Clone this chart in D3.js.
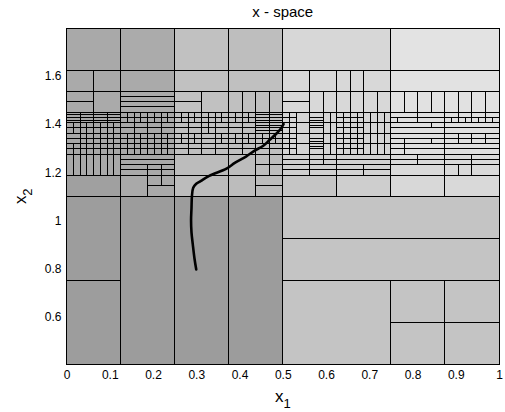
<!DOCTYPE html>
<html>
<head>
<meta charset="utf-8">
<title>x - space</title>
<script src="https://cdn.jsdelivr.net/npm/d3@7"></script>
<style>
    body { margin: 0; background: #fff; }
    text { font-family: "Liberation Sans", Arial, sans-serif; fill: #000; }
</style>
</head>
<body>
<svg id="chart" width="505" height="412"></svg>
<script>
// mesh is stored in grid units: x in 1/64 of [0,1], y in steps of 0.7/64 counted from 1.1
const gridN = 64, gridY0 = 1.1, gridStep = 0.7 / 64;

const xTicks = [0, 0.1, 0.2, 0.3, 0.4, 0.5, 0.6, 0.7, 0.8, 0.9, 1];
const yTicks = [0.6, 0.8, 1, 1.2, 1.4, 1.6];

// blocks: [x0, x1, y0, y1, grey, vertical splits, horizontal splits]
const lowerBlocks = [
    [0, 8, -32, 0, '#9d9d9d'],
    [0, 8, -64, -32, '#9d9d9d'],
    [8, 16, -64, 0, '#9c9c9c'],
    [16, 24, -64, 0, '#9c9c9c'],
    [24, 32, -64, 0, '#9c9c9c'],
    [32, 64, -32, 0, '#c4c4c4', [], [-16]],
    [32, 48, -64, -32, '#c4c4c4'],
    [48, 64, -64, -32, '#c4c4c4', [56], [-48]]
];

const upperBlocks = [
    // top row
    [0, 8, 48, 64, '#a9a9a9'],
    [8, 16, 48, 64, '#ababab'],
    [16, 24, 48, 64, '#c1c1c1'],
    [24, 32, 48, 64, '#bebebe'],
    [32, 48, 48, 64, '#d7d7d7'],
    [48, 64, 48, 64, '#e3e3e3'],
    // second row
    [0, 8, 40, 48, '#aaaaaa', [4]],
    [8, 16, 40, 48, '#aaaaaa'],
    [16, 24, 40, 48, '#c1c1c1'],
    [24, 32, 40, 48, '#c0c0c0'],
    [32, 48, 40, 48, '#d8d8d8', [36, 40, 42, 44]],
    [48, 64, 40, 48, '#e2e2e2'],
    // third row
    [0, 4, 32, 40, '#aaaaaa', [], [36]],
    [4, 8, 32, 40, '#aaaaaa'],
    [8, 16, 32, 40, '#aaaaaa', [], [34, 36, 38]],
    [16, 20, 32, 40, '#c1c1c1', [], [36]],
    [20, 24, 32, 40, '#c1c1c1'],
    [24, 32, 32, 40, '#c0c0c0', [26, 28, 30]],
    [32, 36, 32, 40, '#d8d8d8', [], [36]],
    [36, 48, 32, 40, '#d8d8d8', [38, 40, 42, 44, 46]],
    [48, 64, 32, 40, '#e1e1e1', [50, 52, 54, 56, 58, 60, 62]],
    // row under the band
    [0, 8, 8, 16, '#a8a8a8', [1, 2, 3, 4, 5, 6, 7]],
    [8, 16, 12, 16, '#a9a9a9', [], [14]],
    [8, 16, 8, 12, '#a9a9a9', [12, 14], [10]],
    [16, 24, 8, 16, '#bcbcbc'],
    [24, 28, 8, 16, '#bdbdbd'],
    [28, 32, 8, 16, '#bdbdbd', [30], [12]],
    [32, 36, 8, 16, '#cfcfcf', [], [10, 12, 14]],
    [36, 40, 12, 16, '#d0d0d0', [38], [14]],
    [36, 40, 8, 12, '#d0d0d0', [], [10]],
    [40, 48, 12, 16, '#d2d2d2', [], [14]],
    [40, 48, 8, 12, '#d2d2d2', [44], [10]],
    [48, 56, 12, 16, '#dadada', [52], [14]],
    [48, 56, 8, 12, '#dadada'],
    [56, 60, 12, 16, '#dadada', [], [14]],
    [56, 60, 8, 12, '#dadada', [58]],
    [60, 64, 8, 16, '#dadada', [], [12, 14]],
    // bottom row of upper half
    [0, 8, 0, 8, '#a0a0a0'],
    [8, 12, 0, 8, '#a9a9a9'],
    [12, 16, 4, 8, '#a9a9a9', [14]],
    [12, 16, 0, 4, '#a9a9a9'],
    [16, 24, 0, 8, '#bcbcbc'],
    [24, 28, 0, 8, '#bcbcbc'],
    [28, 32, 0, 8, '#bcbcbc', [], [4]],
    [32, 40, 0, 8, '#c5c5c5'],
    [40, 48, 0, 8, '#cecece'],
    [48, 56, 0, 8, '#d8d8d8'],
    [56, 64, 0, 8, '#d9d9d9']
];

// the finely refined band between 1.275 and 1.45
const bandBlocks = [
    [0, 8, 28, 32, '#a8a8a8', [2, 4, 6], [29, 30, 31]],
    [8, 16, 28, 32, '#a8a8a8', [9, 10, 11, 12, 13, 14, 15], [30]],
    [0, 8, 24, 28, '#a7a7a7', [1, 2, 3, 4, 5, 6, 7], [26]],
    [8, 16, 24, 28, '#a8a8a8', [10, 12, 14], [26]],
    [0, 8, 20, 24, '#a7a7a7', [2, 3, 4, 5, 6, 7], [22]],
    [8, 16, 20, 24, '#a8a8a8', [9, 10, 11, 12, 13, 14, 15], [22]],
    [0, 8, 16, 20, '#a7a7a7', [1, 2, 3, 4, 5, 6, 7], [18]],
    [8, 16, 16, 20, '#a8a8a8', [9, 10, 11, 12, 13, 14, 15], [18]],

    [16, 24, 28, 32, '#bfbfbf', [17, 18, 19, 20, 21, 22, 23], [30]],
    [16, 24, 24, 28, '#bfbfbf', [18, 20, 21, 22], [26]],
    [16, 24, 20, 24, '#bfbfbf', [17, 18, 19, 20, 22, 23], [22]],
    [16, 24, 16, 20, '#bfbfbf', [18, 20, 22], [18]],
    [24, 28, 28, 32, '#bfbfbf', [25, 26, 27], [30]],
    [28, 32, 24, 32, '#c0c0c0', [30], [25, 26, 27, 28, 29, 30, 31]],
    [24, 28, 24, 28, '#bfbfbf', [26], [26]],
    [24, 32, 20, 24, '#c0c0c0', [25, 26, 27, 28, 29, 30, 31], [22]],
    [24, 32, 16, 20, '#c0c0c0', [26, 28, 30], [18]],

    [32, 34, 24, 32, '#d4d4d4', [33], [26, 28, 30]],
    [32, 34, 16, 24, '#d4d4d4', [33], [18, 20, 22]],
    [34, 36, 16, 32, '#d4d4d4', [], [20, 24, 28]],
    [36, 38, 16, 32, '#d3d3d3', [], [18, 19, 20, 21, 22, 24, 26, 27, 28, 29, 30]],
    [38, 40, 16, 32, '#d4d4d4', [39], [20, 24, 28]],
    [40, 44, 16, 32, '#d4d4d4', [41, 42, 43], [18, 20, 22, 24, 26, 28, 30]],
    [44, 48, 16, 32, '#d5d5d5', [45, 46, 47], [20, 24, 28]],

    [48, 64, 30, 32, '#dfdfdf', [52, 56, 58, 60, 62]],
    [48, 64, 28, 30, '#dfdfdf', [49, 52, 56, 57, 58, 59, 60, 61, 62, 63]],
    [48, 64, 26, 28, '#dfdfdf', [54, 56]],
    [48, 64, 24, 26, '#dfdfdf', [56]],
    [48, 64, 22, 24, '#dfdfdf', [56, 58, 60, 62]],
    [48, 64, 20, 22, '#dfdfdf', [50, 54, 56, 58, 60, 62]],
    [48, 64, 18, 20, '#dfdfdf', [50, 56]],
    [48, 64, 16, 18, '#dfdfdf', [50, 56]]
];

// optimisation path through x-space
const pathX = [0.300, 0.296, 0.292, 0.289, 0.288, 0.289, 0.290, 0.293, 0.300, 0.310, 0.330, 0.370, 0.390, 0.415, 0.435, 0.455, 0.470, 0.485, 0.495, 0.502];
const pathY = [0.795, 0.840, 0.900, 0.950, 1.000, 1.050, 1.100, 1.135, 1.152, 1.163, 1.185, 1.215, 1.240, 1.265, 1.290, 1.310, 1.335, 1.360, 1.380, 1.400];

const svg = d3.select('#chart');
const plotL = 66.5, plotR = 499, plotT = 28, plotB = 364.5;

const x = d3.scaleLinear().domain([0, 1]).range([plotL, plotR]);
const y = d3.scaleLinear().domain([0.4, 1.8]).range([plotB, plotT]);
const gx = i => i / gridN;
const gy = j => gridY0 + j * gridStep;

const blocks = lowerBlocks.concat(upperBlocks, bandBlocks);

const mesh = svg.append('g').attr('shape-rendering', 'crispEdges');

mesh.selectAll('rect.cell')
    .data(blocks)
    .join('rect')
    .attr('class', 'cell')
    .attr('x', d => x(gx(d[0])))
    .attr('y', d => y(gy(d[3])))
    .attr('width', d => x(gx(d[1])) - x(gx(d[0])))
    .attr('height', d => y(gy(d[2])) - y(gy(d[3])))
    .attr('fill', d => d[4])
    .attr('stroke', '#000')
    .attr('stroke-width', 1);

// split lines inside each block
let segs = [];
blocks.forEach(b => {
    (b[5] || []).forEach(v => segs.push([v, b[2], v, b[3]]));
    (b[6] || []).forEach(h => segs.push([b[0], h, b[1], h]));
});

mesh.selectAll('line.split')
    .data(segs)
    .join('line')
    .attr('class', 'split')
    .attr('x1', d => x(gx(d[0])))
    .attr('y1', d => y(gy(d[1])))
    .attr('x2', d => x(gx(d[2])))
    .attr('y2', d => y(gy(d[3])))
    .attr('stroke', '#000')
    .attr('stroke-width', 1);

// path
const line = d3.line()
    .x((d, i) => x(pathX[i]))
    .y((d, i) => y(pathY[i]))
    .curve(d3.curveCatmullRom);

svg.append('path')
    .attr('d', line(pathX))
    .attr('fill', 'none')
    .attr('stroke', '#000')
    .attr('stroke-width', 2.6)
    .attr('stroke-linecap', 'round');

// box
svg.append('rect')
    .attr('x', plotL).attr('y', plotT)
    .attr('width', plotR - plotL).attr('height', plotB - plotT)
    .attr('fill', 'none')
    .attr('stroke', '#000')
    .attr('shape-rendering', 'crispEdges');

// axes
const fmt = d3.format('~g');
const xAxis = svg.append('g')
    .attr('transform', `translate(0,${plotB})`)
    .call(d3.axisBottom(x).tickValues(xTicks).tickFormat(fmt).tickSize(0).tickPadding(6));
const yAxis = svg.append('g')
    .attr('transform', `translate(${plotL},0)`)
    .call(d3.axisLeft(y).tickValues(yTicks).tickFormat(fmt).tickSize(0).tickPadding(5));

[xAxis, yAxis].forEach(a => {
    a.select('.domain').remove();
    a.selectAll('text')
        .attr('font-family', '"Liberation Sans", Arial, sans-serif')
        .attr('font-size', 12)
        .attr('fill', '#000');
});

// title and labels
svg.append('text')
    .attr('x', (plotL + plotR) / 2)
    .attr('y', 17)
    .attr('text-anchor', 'middle')
    .attr('font-size', 15)
    .text('x - space');

const xl = svg.append('text')
    .attr('x', (plotL + plotR) / 2)
    .attr('y', 402)
    .attr('text-anchor', 'middle')
    .attr('font-size', 17);
xl.append('tspan').text('x');
xl.append('tspan').attr('dy', 6).attr('font-size', 13).text('1');

const yl = svg.append('text')
    .attr('transform', `translate(26,${(plotT + plotB) / 2}) rotate(-90)`)
    .attr('text-anchor', 'middle')
    .attr('font-size', 17);
yl.append('tspan').text('x');
yl.append('tspan').attr('dy', 6).attr('font-size', 13).text('2');
</script>
</body>
</html>
